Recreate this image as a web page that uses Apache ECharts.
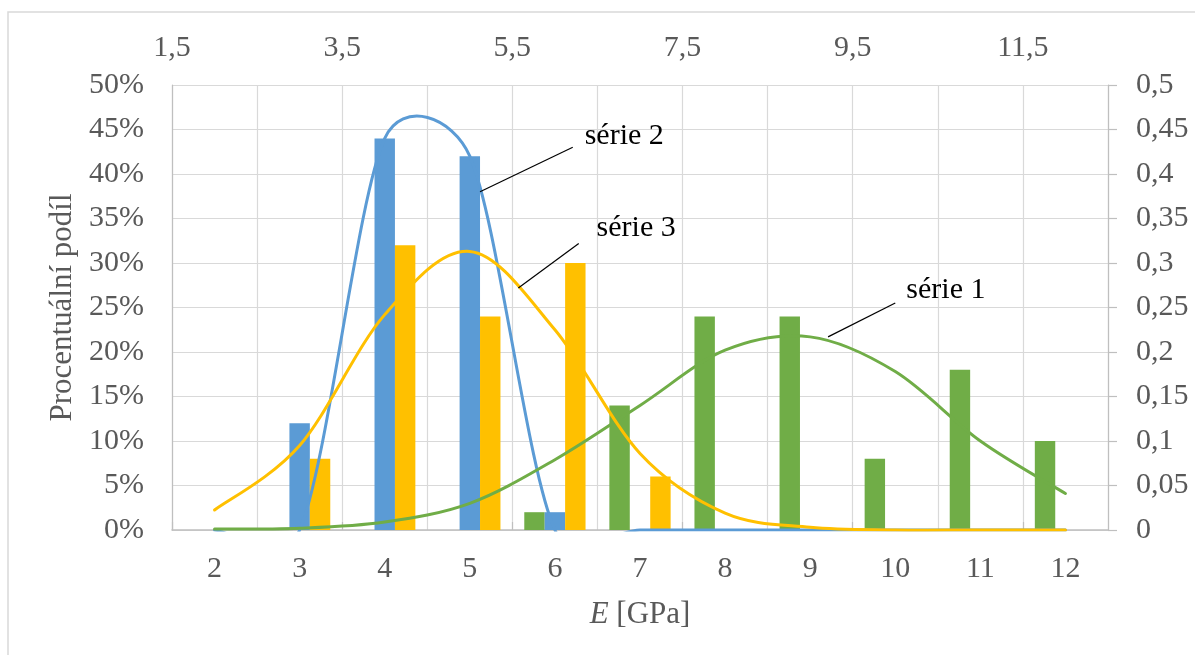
<!DOCTYPE html>
<html>
<head>
<meta charset="utf-8">
<script src="https://cdn.jsdelivr.net/npm/echarts@6/dist/echarts.min.js"></script>
<style>
html,body{margin:0;padding:0;background:#fff;}
#main{width:1195px;height:655px;}
</style>
</head>
<body>
<div id="main"></div>
<script>
// ---- data ----
const categories = ['2','3','4','5','6','7','8','9','10','11','12'];
// bar heights in percent
const barSerie1 = [0, 0, 0, 0, 2, 14, 24, 24, 8, 18, 10];
const barSerie2 = [0, 12, 44, 42, 2, 0, 0, 0, 0, 0, 0];
const barSerie3 = [0, 8, 32, 24, 30, 6, 0, 0, 0, 0, 0];
// fitted curves (right axis), at E = 2..12
const curveX = [2, 3, 4, 5, 6, 7, 8, 9, 10, 11, 12];
const curveSerie1 = [0.001, 0.002, 0.009, 0.030, 0.079, 0.140, 0.202, 0.217, 0.178, 0.100, 0.041];
const curveSerie2 = [0, 0, 0.44, 0.42, 0, 0, 0, 0, 0, 0, 0];
const curveSerie3 = [0.0225, 0.095, 0.242, 0.313, 0.225, 0.086, 0.019, 0.003, 0, 0, 0];
// top axis tick labels
const topTickValues = [1.5, 3.5, 5.5, 7.5, 9.5, 11.5];
// annotations: [label, curve point, elbow point, text anchor] in top/right axis units
const annotations = [
  ['série 2', [5.12, 0.380], [6.21, 0.430], [6.35, 0.442]],
  ['série 3', [5.57, 0.272], [6.28, 0.322], [6.49, 0.339]],
  ['série 1', [9.21, 0.217], [10.0, 0.255], [10.13, 0.269]]
];

const FONT = "'Liberation Serif', 'Times New Roman', serif";
const GRAY = '#595959';
const GREEN = '#70AD47', BLUE = '#5B9BD5', YELLOW = '#FFC000';

function pairs(xs, ys){ return xs.map((x,i)=>[x, ys[i]]); }
function comma(v){ return String(+(+v).toFixed(3)).replace('.', ','); }

// spreadsheet-style smoothed line: cubic Bezier through every data point
function smoothCurve(xs, ys, color) {
  return function (params, api) {
    if (params.dataIndex !== 0) return null;
    const pts = xs.map((x, i) => api.coord([x, ys[i]]));
    let d = 'M' + pts[0][0] + ' ' + pts[0][1];
    for (let i = 0; i < pts.length - 1; i++) {
      const p0 = pts[i - 1] || pts[i], p1 = pts[i], p2 = pts[i + 1], p3 = pts[i + 2] || pts[i + 1];
      const d12 = Math.hypot(p2[0] - p1[0], p2[1] - p1[1]);
      const t1 = [p2[0] - p0[0], p2[1] - p0[1]], l1 = Math.hypot(t1[0], t1[1]);
      const t2 = [p3[0] - p1[0], p3[1] - p1[1]], l2 = Math.hypot(t2[0], t2[1]);
      const k1 = l1 ? Math.min(l1 / 6, d12 / 2) / l1 : 0;
      const k2 = l2 ? Math.min(l2 / 6, d12 / 2) / l2 : 0;
      const c1 = [p1[0] + t1[0] * k1, p1[1] + t1[1] * k1];
      const c2 = [p2[0] - t2[0] * k2, p2[1] - t2[1] * k2];
      d += ' C' + c1[0] + ' ' + c1[1] + ' ' + c2[0] + ' ' + c2[1] + ' ' + p2[0] + ' ' + p2[1];
    }
    const cs = params.coordSys;
    return {
      type: 'path',
      shape: {pathData: d},
      style: {stroke: color, lineWidth: 3, fill: 'none', lineJoin: 'round', lineCap: 'round'},
      clipPath: {type: 'rect', shape: {x: cs.x - 2, y: cs.y, width: cs.width + 4, height: cs.height + 1.5}}
    };
  };
}

const chart = echarts.init(document.getElementById('main'));
const labelStyle = {color: GRAY, fontFamily: FONT, fontSize: 30};

const option = {
  animation: false,
  backgroundColor: '#fff',
  grid: {left: 172, right: 87, top: 85, bottom: 125},
  xAxis: [
    {
      type: 'category', data: categories, position: 'bottom',
      axisLine: {show: true, lineStyle: {color: '#BFBFBF', width: 1.5}},
      axisTick: {show: false},
      axisLabel: Object.assign({margin: 24, interval: 0}, labelStyle),
      splitLine: {show: true, interval: 0, lineStyle: {color: '#D9D9D9', width: 1.2}},
      name: '{i|E} [GPa]', nameLocation: 'middle', nameGap: 69,
      nameTextStyle: {color: GRAY, fontFamily: FONT, fontSize: 31,
        rich: {i: {fontStyle: 'italic', color: GRAY, fontFamily: FONT, fontSize: 31}}}
    },
    {
      type: 'value', position: 'top', min: 1.5, max: 12.5,
      axisLine: {show: false},
      axisTick: {show: true, customValues: topTickValues, length: 8, lineStyle: {color: '#BFBFBF', width: 1.2}},
      axisLabel: Object.assign({margin: 22, customValues: topTickValues, formatter: v => comma(v)}, labelStyle),
      splitLine: {show: false}
    }
  ],
  yAxis: [
    {
      type: 'value', position: 'left', min: 0, max: 50, interval: 5,
      axisLine: {show: true, lineStyle: {color: '#BFBFBF', width: 1.2}},
      axisTick: {show: false},
      axisLabel: Object.assign({margin: 28, formatter: '{value}%'}, labelStyle),
      splitLine: {show: true, lineStyle: {color: '#D9D9D9', width: 1.2}},
      name: 'Procentuální podíl', nameLocation: 'middle', nameGap: 94, nameRotate: 90,
      nameTextStyle: {color: GRAY, fontFamily: FONT, fontSize: 31}
    },
    {
      type: 'value', position: 'right', min: 0, max: 0.5, interval: 0.05,
      axisLine: {show: true, lineStyle: {color: '#BFBFBF', width: 1.2}},
      axisTick: {show: true, length: 9, lineStyle: {color: '#BFBFBF', width: 1.2}},
      axisLabel: Object.assign({margin: 28, formatter: v => comma(v)}, labelStyle),
      splitLine: {show: false}
    }
  ],
  series: [
    {type: 'bar', name: 'série 1', data: barSerie1, xAxisIndex: 0, yAxisIndex: 0,
     barWidth: '24%', barGap: '0%', itemStyle: {color: GREEN}, z: 2},
    {type: 'bar', name: 'série 2', data: barSerie2, xAxisIndex: 0, yAxisIndex: 0,
     barWidth: '24%', barGap: '0%', itemStyle: {color: BLUE}, z: 2},
    {type: 'bar', name: 'série 3', data: barSerie3, xAxisIndex: 0, yAxisIndex: 0,
     barWidth: '24%', barGap: '0%', itemStyle: {color: YELLOW}, z: 2},
    {type: 'custom', name: 'fit 2', data: pairs(curveX, curveSerie2), xAxisIndex: 1, yAxisIndex: 1,
     renderItem: smoothCurve(curveX, curveSerie2, BLUE), z: 5},
    {type: 'custom', name: 'fit 1', data: pairs(curveX, curveSerie1), xAxisIndex: 1, yAxisIndex: 1,
     renderItem: smoothCurve(curveX, curveSerie1, GREEN), z: 6},
    {type: 'custom', name: 'fit 3', data: pairs(curveX, curveSerie3), xAxisIndex: 1, yAxisIndex: 1,
     renderItem: smoothCurve(curveX, curveSerie3, YELLOW), z: 7}
  ]
};
chart.setOption(option);

// annotations positioned through the axes
const finder = {xAxisIndex: 1, yAxisIndex: 1};
const graphics = [
  {type: 'rect', shape: {x: 8, y: 12, width: 1240, height: 700}, silent: true, z: -10,
   style: {fill: 'none', stroke: '#D9D9D9', lineWidth: 1.5}}
];
annotations.forEach(([text, p0, p1, pt]) => {
  const a = chart.convertToPixel(finder, p0);
  const b = chart.convertToPixel(finder, p1);
  const t = chart.convertToPixel(finder, pt);
  graphics.push({type: 'line', shape: {x1: a[0], y1: a[1], x2: b[0], y2: b[1]}, z: 100,
    style: {stroke: '#000', lineWidth: 1.2}});
  graphics.push({type: 'text', x: t[0], y: t[1], z: 100,
    style: {text: text, fill: '#000', font: '30px ' + FONT, textAlign: 'left', textVerticalAlign: 'middle'}});
});
chart.setOption({graphic: graphics});
</script>
</body>
</html>
